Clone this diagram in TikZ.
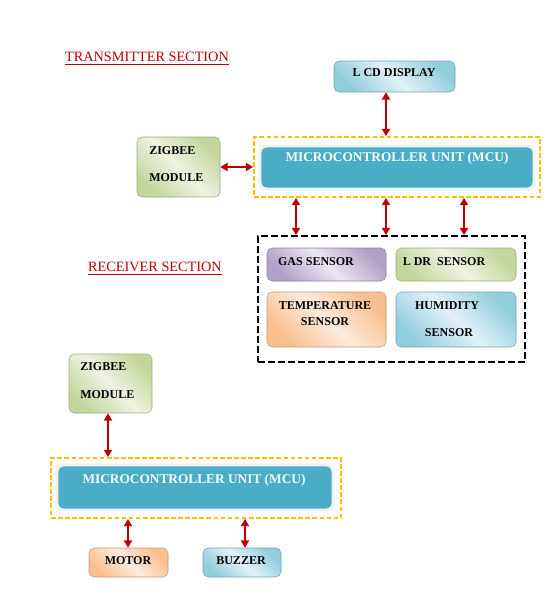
\documentclass[tikz,border=0pt]{standalone}
\usepackage{fontspec}
\setmainfont{Liberation Serif}
\usetikzlibrary{fit,arrows.meta}
\definecolor{arrred}{RGB}{192,0,0}
\definecolor{mcublue}{RGB}{75,172,198}
\definecolor{ygold}{RGB}{255,192,0}
\definecolor{bluedk}{RGB}{146,205,220}
\definecolor{bluelt}{RGB}{225,242,247}
\definecolor{greendk}{RGB}{195,214,155}
\definecolor{greenlt}{RGB}{238,243,226}
\definecolor{purpledk}{RGB}{178,161,199}
\definecolor{purplelt}{RGB}{235,230,241}
\definecolor{orangedk}{RGB}{250,191,143}
\definecolor{orangelt}{RGB}{253,235,220}
\begin{document}
\begin{tikzpicture}[x=0.75pt,y=-0.75pt,
  shbox/.style n args={2}{rounded corners=4pt, draw=#1!80!black, line width=0.4pt,
     left color=#1, right color=#1, middle color=#2, shading angle=135, inner sep=0pt},
  mcubox/.style={fill=mcublue, draw=black!6, line width=2.2pt, rounded corners=5pt, inner sep=0pt},
  ydash/.style={draw=ygold, line width=1.3pt, dash pattern=on 3.5pt off 1.8pt, inner sep=0pt},
  kdash/.style={draw=black, line width=1.3pt, dash pattern=on 5pt off 2.5pt, inner sep=0pt},
  arr/.style={draw=arrred, line width=1.4pt, {Triangle[length=5.5pt,width=6pt]}-{Triangle[length=5.5pt,width=6pt]}},
  txt/.style={font=\bfseries\fontsize{9}{11}\selectfont, inner sep=0pt},
  wtxt/.style={font=\bfseries\fontsize{10}{12}\selectfont, inner sep=0pt, text=white!96!mcublue},
  sect/.style={font=\fontsize{10.7}{12}\selectfont, text=arrred, inner sep=0pt},
  uline/.style={draw=arrred, line width=0.8pt}
]
\useasboundingbox[fill=white] (0,0) rectangle (555,611);

% ---------- Transmitter ----------
\node[sect] (tsec) at (147,57) {TRANSMITTER SECTION};
\draw[uline] ([yshift=-2pt]tsec.south west) -- ([yshift=-2pt]tsec.south east);

\node[shbox={bluedk}{bluelt}, fit={(334,61)(455,92)}] (lcd) {};
\node[txt] (tlcd) at (394,73) {L CD DISPLAY};

\node[ydash, fit={(254,137)(540,197)}] (ytop) {};
\node[mcubox, fit={(260,146)(534,189)}] (mcutop) {};
\node[wtxt] (tmcutop) at (397,158) {MICROCONTROLLER UNIT (MCU)};

\node[shbox={greendk}{greenlt}, fit={(137,137)(220,197)}] (zigtop) {};
\node[txt, anchor=west] (tz1) at (149,151) {ZIGBEE};
\node[txt, anchor=west] (tz2) at (149,178) {MODULE};

\node[kdash, fit={(258,236)(525,362)}] (sens) {};
\node[shbox={purpledk}{purplelt}, fit={(267,248)(386,281)}] (gas) {};
\node[txt] (tgas) at (316,262) {GAS SENSOR};
\node[shbox={greendk}{greenlt}, fit={(396,248)(516,281)}] (ldr) {};
\node[txt] (tldr) at (444,262) {L DR~ SENSOR};
\node[shbox={orangedk}{orangelt}, fit={(267,292)(386,347)}] (temp) {};
\node[txt] (tt1) at (325,306) {TEMPERATURE};
\node[txt] (tt2) at (325,322) {SENSOR};
\node[shbox={bluedk}{bluelt}, fit={(396,292)(516,347)}] (hum) {};
\node[txt] (th1) at (447,306) {HUMIDITY};
\node[txt] (th2) at (449,333) {SENSOR};

\coordinate (c1) at (386,0);
\coordinate (a1) at (296,0);
\coordinate (a2) at (386,0);
\coordinate (a3) at (464,0);
\draw[arr] (c1 |- lcd.south) -- (c1 |- ytop.north);
\draw[arr] (zigtop.east) -- (zigtop.east -| ytop.west);
\draw[arr] (a1 |- ytop.south) -- (a1 |- sens.north);
\draw[arr] (a2 |- ytop.south) -- (a2 |- sens.north);
\draw[arr] (a3 |- ytop.south) -- (a3 |- sens.north);

% ---------- Receiver ----------
\node[sect] (rsec) at (155,267) {RECEIVER SECTION};
\draw[uline] ([yshift=-2pt]rsec.south west) -- ([yshift=-2pt]rsec.south east);

\node[shbox={greendk}{greenlt}, fit={(69,354)(152,413)}] (zigbot) {};
\node[txt, anchor=west] (tz3) at (80,367) {ZIGBEE};
\node[txt, anchor=west] (tz4) at (80,395) {MODULE};

\node[ydash, fit={(51,458)(341,518)}] (ybot) {};
\node[mcubox, fit={(57,465)(333,510)}] (mcubot) {};
\node[wtxt] (tmcubot) at (194,480) {MICROCONTROLLER UNIT (MCU)};

\node[shbox={orangedk}{orangelt}, fit={(89,548)(168,577)}] (motor) {};
\node[txt] (tmotor) at (128,561) {MOTOR};
\node[shbox={bluedk}{bluelt}, fit={(203,548)(281,577)}] (buzz) {};
\node[txt] (tbuzz) at (241,561) {BUZZER};

\coordinate (b0) at (108,0);
\coordinate (b1) at (128,0);
\coordinate (b2) at (245,0);
\draw[arr] (b0 |- zigbot.south) -- (b0 |- ybot.north);
\draw[arr] (b1 |- ybot.south) -- (b1 |- motor.north);
\draw[arr] (b2 |- ybot.south) -- (b2 |- buzz.north);
\end{tikzpicture}
\end{document}
